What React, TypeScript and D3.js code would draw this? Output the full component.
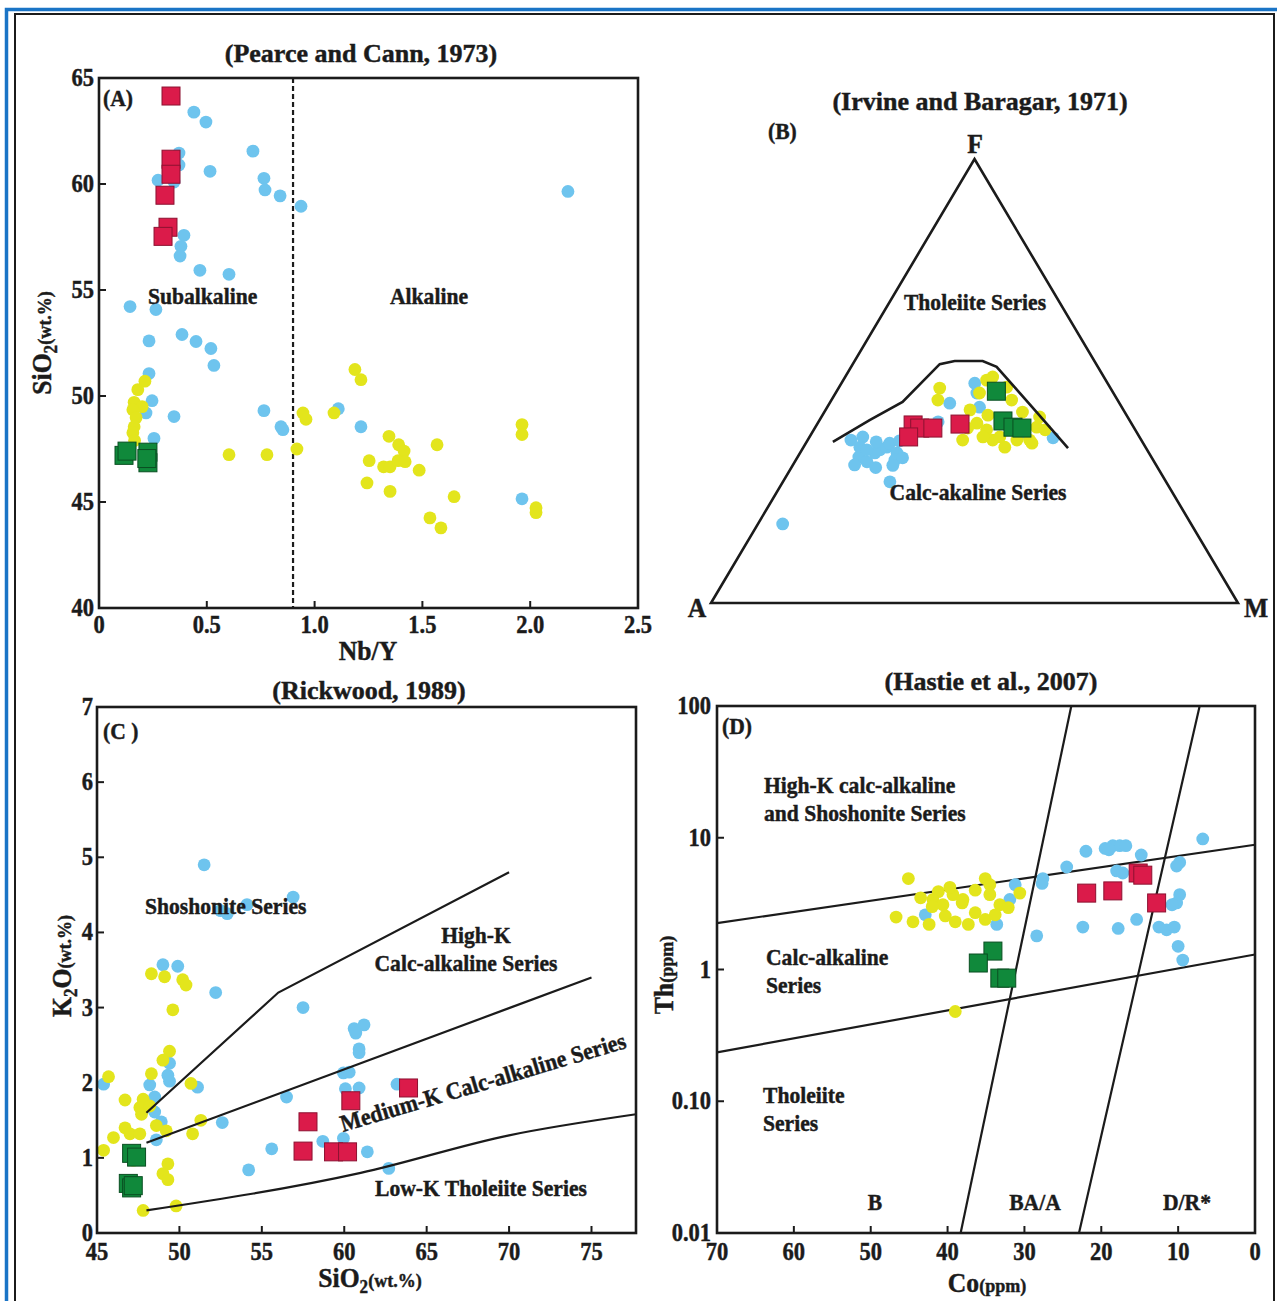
import React from 'react';
import * as d3 from 'd3';

// ---------- data ----------
// (A) Nb/Y vs SiO2
const aBlue = [
  [0.44, 63.39], [0.496, 62.92], [0.371, 61.46], [0.371, 60.9], [0.274, 60.18], [0.348, 60.09],
  [0.515, 60.6], [0.714, 61.55], [0.765, 60.27], [0.77, 59.72], [0.84, 59.44], [0.937, 58.95],
  [0.394, 57.58], [0.38, 57.06], [0.376, 56.6], [0.468, 55.93], [0.603, 55.74], [0.144, 54.22],
  [0.264, 54.08], [0.385, 52.9], [0.45, 52.57], [0.519, 52.24], [0.533, 51.44], [0.232, 52.6],
  [0.232, 51.06], [0.246, 49.78], [0.218, 49.2], [0.348, 49.03], [0.255, 48.0], [0.765, 49.31],
  [0.844, 48.55], [0.853, 48.41], [1.11, 49.4], [1.215, 48.55], [2.175, 59.65], [1.962, 45.15],
];
const aYellow = [
  [0.213, 50.7], [0.18, 50.3], [0.163, 49.7], [0.2, 49.5], [0.157, 49.35], [0.172, 48.98],
  [0.163, 48.55], [0.157, 48.27], [0.165, 47.9], [0.603, 47.23], [0.779, 47.23], [0.918, 47.5],
  [0.946, 49.2], [0.96, 48.9], [1.09, 49.2], [1.187, 51.25], [1.215, 50.77], [1.345, 48.1],
  [1.39, 47.7], [1.415, 47.4], [1.253, 46.95], [1.32, 46.66], [1.35, 46.66], [1.387, 46.95],
  [1.42, 46.9], [1.243, 45.9], [1.35, 45.5], [1.485, 46.5], [1.568, 47.7], [1.647, 45.25],
  [1.535, 44.25], [1.586, 43.78], [1.962, 48.65], [1.962, 48.18], [2.027, 44.73], [2.027, 44.5],
];
const aRed = [[0.334, 64.15], [0.334, 61.17], [0.334, 60.46], [0.306, 59.47], [0.32, 57.96], [0.297, 57.53]];
const aGreen = [[0.116, 47.2], [0.13, 47.4], [0.227, 47.35], [0.227, 46.85], [0.222, 47.05]];
const aXTicks = [0, 0.5, 1.0, 1.5, 2.0, 2.5];
const aYTicks = [40, 45, 50, 55, 60, 65];

// (B) AFM ternary, [A, F, M]
const bBlue = [
  [52.4, 27.3, 20.3], [52.5, 37.4, 10.1], [54.2, 35.1, 10.7], [55.5, 32.9, 11.6], [54.5, 31.8, 13.7],
  [50.7, 34.5, 14.8], [49.1, 35.1, 15.8], [47.8, 33.8, 18.4], [49.0, 32.2, 18.8], [47.3, 32.7, 20.0],
  [52.0, 33.8, 14.2], [53.2, 34.5, 12.3], [48.1, 36.0, 15.9], [36.5, 40.8, 22.7], [32.2, 45.0, 22.8],
  [25.2, 49.5, 25.3], [27.0, 44.1, 28.9], [23.1, 37.4, 39.5], [16.5, 37.2, 46.3], [25.9, 47.3, 26.8],
  [77.5, 17.8, 4.7], [55.1, 36.7, 8.2], [50.5, 36.3, 13.2], [57.2, 31.1, 11.7], [53.5, 30.5, 16.0],
  [50.0, 31.0, 19.0], [46.0, 36.5, 17.5],
];
const bYellow = [
  [34.1, 45.7, 20.2], [22.6, 50.2, 27.2], [25.4, 47.3, 27.3], [29.1, 43.5, 27.4], [29.3, 40.5, 30.2],
  [28.2, 39.0, 32.8], [28.2, 36.7, 35.1], [26.7, 35.1, 38.2], [21.2, 36.7, 42.1], [18.4, 39.6, 42.0],
  [16.7, 41.9, 41.4], [20.1, 45.7, 34.2], [19.6, 48.6, 31.8], [21.1, 50.9, 28.0], [31.6, 39.4, 29.0],
  [33.9, 36.7, 29.4], [19.4, 43.0, 37.6], [26.5, 37.4, 36.1], [29.7, 37.4, 32.9], [23.6, 36.7, 39.7],
  [21.1, 36.0, 42.9], [26.3, 42.3, 31.4], [32.4, 48.4, 19.2], [17.1, 39.0, 43.9],
];
const bRed = [[41.6, 40.1, 18.3], [40.7, 39.4, 19.9], [38.2, 39.4, 22.4], [43.8, 37.4, 18.8], [32.6, 40.3, 27.1]];
const bGreen = [[22.0, 47.7, 30.3], [24.1, 41.0, 34.9], [22.9, 39.6, 37.5], [21.3, 39.4, 39.3]];
const bCurve = [
  [58.8, 36.3, 5.0], [49.3, 41.2, 9.5], [41.0, 45.3, 13.7], [29.7, 53.8, 16.5], [26.5, 54.5, 19.0],
  [21.2, 54.5, 24.3], [19.2, 53.2, 27.6], [17.0, 44.1, 38.9], [14.8, 34.9, 50.3],
];

// (C) SiO2 vs K2O
const cBlue = [
  [51.5, 4.9], [56.9, 4.47], [52.5, 4.29], [52.9, 4.25], [54.1, 4.37], [49.0, 3.57], [49.9, 3.55],
  [52.2, 3.2], [57.5, 3.0], [49.4, 2.26], [49.3, 2.1], [49.4, 2.02], [48.2, 1.97], [51.1, 1.94],
  [45.4, 1.98], [48.5, 1.81], [48.5, 1.61], [48.9, 1.48], [48.6, 1.24], [52.6, 1.47], [56.5, 1.81],
  [55.6, 1.12], [54.2, 0.84], [58.7, 1.22], [60.6, 2.72], [61.2, 2.77], [60.7, 2.66], [60.9, 2.45],
  [60.9, 2.4], [59.95, 2.13], [60.3, 2.14], [60.07, 1.92], [60.9, 1.93], [63.2, 1.98], [59.95, 1.26],
  [61.4, 1.08], [62.7, 0.86],
];
const cYellow = [
  [45.7, 2.08], [48.3, 3.45], [49.1, 3.41], [50.2, 3.37], [50.4, 3.3], [49.6, 2.97], [49.4, 2.42],
  [49.0, 2.3], [48.3, 2.12], [50.7, 1.99], [46.7, 1.77], [47.8, 1.78], [47.6, 1.67], [47.7, 1.58],
  [48.2, 1.69], [51.3, 1.5], [48.6, 1.43], [49.2, 1.36], [46.7, 1.4], [46.0, 1.27], [45.4, 1.1],
  [50.8, 1.32], [47.0, 1.32], [47.6, 1.32], [47.2, 0.97], [49.3, 0.92], [49.0, 0.79], [49.3, 0.71],
  [47.8, 0.3], [49.8, 0.36],
];
const cRed = [[63.9, 1.93], [60.4, 1.76], [57.8, 1.48], [57.5, 1.09], [59.35, 1.08], [60.2, 1.08]];
const cGreen = [[47.1, 1.06], [47.4, 1.01], [46.9, 0.66], [47.1, 0.6], [47.2, 0.63]];
const cShoshonite = [[48, 1.6], [56, 3.2], [70, 4.8]];
const cHighK = [[48, 1.2], [75, 3.4]];
const cLowK = [[48, 0.3], [61, 0.8], [70, 1.3], [77.7, 1.58]];
const cXTicks = [45, 50, 55, 60, 65, 70, 75];
const cYTicks = [0, 1, 2, 3, 4, 5, 6, 7];

// (D) Co vs Th
const dBlue = [
  [6.8, 9.8], [22, 7.9], [19.5, 8.3], [18.5, 8.7], [17.6, 8.7], [16.8, 8.7], [19.0, 8.1], [14.8, 7.4],
  [24.5, 6.0], [27.6, 4.9], [27.7, 4.5], [9.8, 6.5], [10.2, 6.1], [18.0, 5.6], [17.2, 5.4], [9.8, 3.7],
  [10.2, 3.2], [10.8, 3.1], [15.4, 2.4], [22.4, 2.1], [17.8, 2.05], [12.5, 2.1], [11.5, 2.0],
  [10.5, 2.1], [10.0, 1.5], [9.4, 1.18], [28.4, 1.8], [31.2, 4.4], [33.6, 2.2], [31.9, 3.4], [42.9, 2.6],
];
const dYellow = [
  [45.1, 4.9], [46.7, 2.5], [44.5, 2.3], [42.4, 2.2], [41.2, 3.9], [41.9, 3.4], [40.6, 3.1],
  [40.3, 2.55], [39.0, 2.3], [39.3, 3.7], [38.1, 3.2], [39.0, 0.48], [39.7, 4.2], [38.0, 3.4],
  [36.4, 4.0], [35.1, 4.9], [34.5, 3.7], [33.2, 3.1], [32.1, 2.95], [30.6, 3.8], [35.1, 2.4],
  [36.4, 2.7], [37.3, 2.2], [33.8, 2.6], [34.5, 4.4], [42.0, 3.0], [43.5, 3.5],
];
const dRed = [[21.9, 3.8], [18.5, 3.95], [15.2, 5.4], [14.6, 5.2], [12.8, 3.2]];
const dGreen = [[34.1, 1.38], [36.0, 1.12], [33.2, 0.86], [32.3, 0.86]];
const dUpper = [[70, 2.25], [0, 8.85]];
const dLower = [[70, 0.235], [0, 1.3]];
const dLeftDiv = [[38.3, 0.01], [23.9, 100]];
const dRightDiv = [[22.9, 0.01], [7.2, 100]];
const dXTicks = [70, 60, 50, 40, 30, 20, 10, 0];
const dYTicks = [0.01, 0.1, 1, 10, 100];
const dYLabels = ['0.01', '0.10', '1', '10', '100'];

// ---------- style ----------
const FONT = '"Liberation Serif", "Times New Roman", serif';
const INK = '#1b1b1b';
const BLUE = '#6ec4ee';
const YELLOW = '#e3e51c';
const RED = '#db1b4a';
const GREEN = '#10893b';
const R = 6.4;
const SQ = 18;

const T = ({x, y, size = 24, anchor = 'start', rot = 0, sx = 0.9, children}: any) => (
  <text transform={`translate(${x},${y}) rotate(${rot}) scale(${sx},1)`} fontSize={size}
        textAnchor={anchor} fontFamily={FONT} fontWeight="bold" fill={INK}
        stroke={INK} strokeWidth={0.45}>{children}</text>
);

const Dots = ({pts, color}: any) => (
  <g>{pts.map((p: number[], i: number) => <circle key={i} cx={p[0]} cy={p[1]} r={R} fill={color}/>)}</g>
);
const Squares = ({pts, color, edge}: any) => (
  <g>{pts.map((p: number[], i: number) =>
    <rect key={i} x={p[0] - SQ / 2} y={p[1] - SQ / 2} width={SQ} height={SQ} fill={color} stroke={edge} strokeWidth={1}/>)}</g>
);

// ---------- scales ----------
const ax = d3.scaleLinear().domain([0, 2.5]).range([99, 638]);
const ay = d3.scaleLinear().domain([40, 65]).range([608, 78]);
const cx = d3.scaleLinear().domain([45, 77.7]).range([97, 636]);
const cy = d3.scaleLinear().domain([0, 7]).range([1233, 707]);
const dx = d3.scaleLinear().domain([70, 0]).range([717, 1255]);
const dy = d3.scaleLog().domain([0.01, 100]).range([1233, 706]);
const tBase = d3.scaleLinear().domain([0, 100]).range([711, 1238]);
const tHeight = d3.scaleLinear().domain([0, 100]).range([603, 159]);

const tern = ([a, f, m]: number[]) => {
  const s = a + f + m;
  const F = (100 * f) / s, M = (100 * m) / s;
  return [tBase(M + F / 2), tHeight(F)];
};
const proj = (sx: any, sy: any) => (pts: number[][]) => pts.map(p => [sx(p[0]), sy(p[1])]);
const pa = proj(ax, ay), pc = proj(cx, cy), pd = proj(dx, dy);
const line = d3.line();
const smooth = d3.line().curve(d3.curveMonotoneX);

const Frame = ({x0, x1, y0, y1}: any) => (
  <rect x={x0} y={y0} width={x1 - x0} height={y1 - y0} fill="none" stroke={INK} strokeWidth={2.6}/>
);

export default function App() {
  const [a0, a1] = ax.range(); const [ab, at] = ay.range();
  const [c0, c1] = cx.range(); const [cb, ct] = cy.range();
  const [d0, d1] = dx.range(); const [db, dt] = dy.range();
  const tri = [[0, 0, 100], [100, 0, 0], [0, 100, 0]].map(p => tern([p[1], p[2], p[0]]));

  return (
    <div style={{position: 'absolute', left: 0, top: 0}}>
      <svg width={1277} height={1301} style={{display: 'block', background: '#fff'}}>
        <rect x={6.5} y={9.5} width={1290} height={1310} fill="none" stroke="#1a74c6" strokeWidth={3.5}/>
        <rect x={15} y={14} width={1259} height={1300} fill="none" stroke={INK} strokeWidth={2}/>

        {/* ----- (A) ----- */}
        <T x={361} y={62} size={26} anchor="middle" sx={1}>(Pearce and Cann, 1973)</T>
        <line x1={ax(0.9)} x2={ax(0.9)} y1={at} y2={ab} stroke={INK} strokeWidth={2.2} strokeDasharray="5,3"/>
        {aXTicks.slice(1, -1).map(v => <line key={v} x1={ax(v)} x2={ax(v)} y1={ab} y2={ab - 7} stroke={INK} strokeWidth={2}/>)}
        {aYTicks.slice(1, -1).map(v => <line key={v} x1={a0} x2={a0 + 7} y1={ay(v)} y2={ay(v)} stroke={INK} strokeWidth={2}/>)}
        {aXTicks.map(v => <T key={v} x={ax(v)} y={ab + 25} size={25} anchor="middle">{v === 0 ? '0' : v.toFixed(1)}</T>)}
        {aYTicks.map(v => <T key={v} x={a0 - 5} y={ay(v) + 8} size={25} anchor="end">{v}</T>)}
        <Dots pts={pa(aBlue)} color={BLUE}/>
        <Dots pts={pa(aYellow)} color={YELLOW}/>
        <Squares pts={pa(aRed)} color={RED} edge="#8c1231"/>
        <Squares pts={pa(aGreen)} color={GREEN} edge="#0a4f22"/>
        <Frame x0={a0} x1={a1} y0={at} y1={ab}/>
        <T x={103} y={106}>(A)</T>
        <T x={148} y={304}>Subalkaline</T>
        <T x={390} y={304}>Alkaline</T>
        <T x={368} y={660} size={27} anchor="middle" sx={0.95}>Nb/Y</T>
        <T x={51} y={343} size={27} anchor="middle" rot={-90} sx={0.95}>
          SiO<tspan fontSize={18} dy={6}>2</tspan><tspan fontSize={19} dy={-6}>(wt.%)</tspan>
        </T>

        {/* ----- (B) ----- */}
        <T x={980} y={110} size={26} anchor="middle" sx={1}>(Irvine and Baragar, 1971)</T>
        <T x={768} y={139}>(B)</T>
        <path d={line(tri as any) + 'Z'} fill="none" stroke={INK} strokeWidth={2.6}/>
        <Dots pts={bBlue.map(tern)} color={BLUE}/>
        <Dots pts={bYellow.map(tern)} color={YELLOW}/>
        <Squares pts={bRed.map(tern)} color={RED} edge="#8c1231"/>
        <Squares pts={bGreen.map(tern)} color={GREEN} edge="#0a4f22"/>
        <path d={line(bCurve.map(tern) as any) as string} fill="none" stroke={INK} strokeWidth={2.6}/>
        <T x={975} y={153} size={27} anchor="middle" sx={0.95}>F</T>
        <T x={697} y={617} size={27} anchor="middle" sx={0.95}>A</T>
        <T x={1256} y={617} size={27} anchor="middle" sx={0.95}>M</T>
        <T x={975} y={310} anchor="middle">Tholeiite Series</T>
        <T x={978} y={500} anchor="middle">Calc-akaline Series</T>

        {/* ----- (C) ----- */}
        <T x={369} y={699} size={26} anchor="middle" sx={1}>(Rickwood, 1989)</T>
        {cXTicks.slice(1).map(v => <line key={v} x1={cx(v)} x2={cx(v)} y1={cb} y2={cb - 7} stroke={INK} strokeWidth={2}/>)}
        {cYTicks.slice(1, -1).map(v => <line key={v} x1={c0} x2={c0 + 7} y1={cy(v)} y2={cy(v)} stroke={INK} strokeWidth={2}/>)}
        {cXTicks.map(v => <T key={v} x={cx(v)} y={cb + 27} size={25} anchor="middle">{v}</T>)}
        {cYTicks.map(v => <T key={v} x={c0 - 4} y={cy(v) + 8} size={25} anchor="end">{v}</T>)}
        <Dots pts={pc(cBlue)} color={BLUE}/>
        <Dots pts={pc(cYellow)} color={YELLOW}/>
        <path d={line(pc(cShoshonite) as any) as string} fill="none" stroke={INK} strokeWidth={2.2}/>
        <path d={line(pc(cHighK) as any) as string} fill="none" stroke={INK} strokeWidth={2.2}/>
        <path d={smooth(pc(cLowK) as any) as string} fill="none" stroke={INK} strokeWidth={2.2}/>
        <Squares pts={pc(cRed)} color={RED} edge="#8c1231"/>
        <Squares pts={pc(cGreen)} color={GREEN} edge="#0a4f22"/>
        <Frame x0={c0} x1={c1} y0={ct} y1={cb}/>
        <T x={103} y={739}>(C )</T>
        <T x={145} y={914}>Shoshonite Series</T>
        <T x={476} y={943} anchor="middle">High-K</T>
        <T x={466} y={971} anchor="middle">Calc-alkaline Series</T>
        <T x={343} y={1132} rot={-16.5} sx={0.92}>Medium-K Calc-alkaline Series</T>
        <T x={375} y={1196}>Low-K Tholeiite Series</T>
        <T x={370} y={1287} size={27} anchor="middle" sx={0.95}>
          SiO<tspan fontSize={18} dy={6}>2</tspan><tspan fontSize={19} dy={-6}>(wt.%)</tspan>
        </T>
        <T x={71} y={966} size={27} anchor="middle" rot={-90} sx={0.95}>
          K<tspan fontSize={18} dy={6}>2</tspan><tspan dy={-6}>O</tspan><tspan fontSize={19}>(wt.%)</tspan>
        </T>

        {/* ----- (D) ----- */}
        <T x={991} y={690} size={26} anchor="middle" sx={1}>(Hastie et al., 2007)</T>
        {dXTicks.slice(1, -1).map(v => <line key={v} x1={dx(v)} x2={dx(v)} y1={db} y2={db - 7} stroke={INK} strokeWidth={2}/>)}
        {dYTicks.slice(1, -1).map(v => <line key={v} x1={d0} x2={d0 + 7} y1={dy(v)} y2={dy(v)} stroke={INK} strokeWidth={2}/>)}
        {dXTicks.map(v => <T key={v} x={dx(v)} y={db + 27} size={25} anchor="middle">{v}</T>)}
        {dYTicks.map((v, i) => <T key={v} x={d0 - 6} y={dy(v) + 8} size={25} anchor="end">{dYLabels[i]}</T>)}
        <path d={line(pd(dUpper) as any) as string} fill="none" stroke={INK} strokeWidth={2.2}/>
        <path d={line(pd(dLower) as any) as string} fill="none" stroke={INK} strokeWidth={2.2}/>
        <path d={line(pd(dLeftDiv) as any) as string} fill="none" stroke={INK} strokeWidth={2.2}/>
        <path d={line(pd(dRightDiv) as any) as string} fill="none" stroke={INK} strokeWidth={2.2}/>
        <Dots pts={pd(dBlue)} color={BLUE}/>
        <Dots pts={pd(dYellow)} color={YELLOW}/>
        <Squares pts={pd(dRed)} color={RED} edge="#8c1231"/>
        <Squares pts={pd(dGreen)} color={GREEN} edge="#0a4f22"/>
        <Frame x0={d0} x1={d1} y0={dt} y1={db}/>
        <T x={722} y={734}>(D)</T>
        <T x={764} y={793}>High-K calc-alkaline</T>
        <T x={764} y={821}>and Shoshonite Series</T>
        <T x={766} y={965}>Calc-alkaline</T>
        <T x={766} y={993}>Series</T>
        <T x={763} y={1103}>Tholeiite</T>
        <T x={763} y={1131}>Series</T>
        <T x={875} y={1210} anchor="middle">B</T>
        <T x={1035} y={1210} anchor="middle">BA/A</T>
        <T x={1187} y={1210} anchor="middle">D/R*</T>
        <T x={987} y={1292} size={27} anchor="middle" sx={0.95}>
          Co<tspan fontSize={19}>(ppm)</tspan>
        </T>
        <T x={673} y={975} size={27} anchor="middle" rot={-90} sx={0.95}>
          Th<tspan fontSize={19}>(ppm)</tspan>
        </T>
      </svg>
    </div>
  );
}
